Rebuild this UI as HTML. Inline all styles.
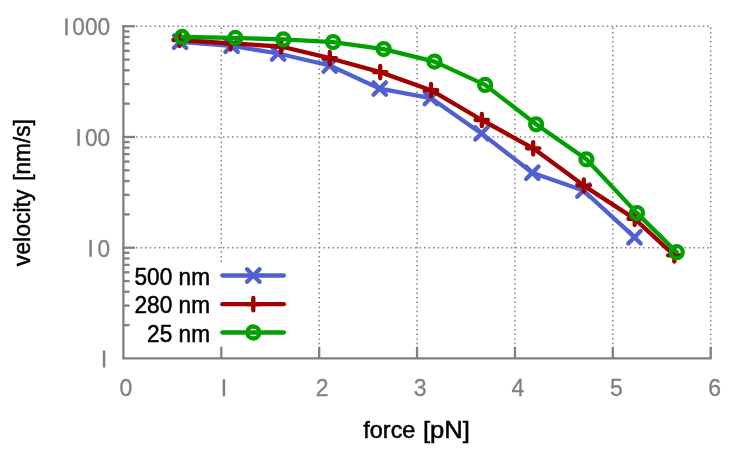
<!DOCTYPE html>
<html><head><meta charset="utf-8"><title>velocity vs force</title>
<style>html,body{margin:0;padding:0;background:#fff;}svg{display:block;}text{font-family:"Liberation Sans",sans-serif;}</style>
</head><body>
<svg width="747" height="449" viewBox="0 0 747 449">
<rect width="747" height="449" fill="#ffffff"/>
<g stroke="#808080" stroke-width="1.5" stroke-dasharray="1.5 3.07" fill="none">
<path d="M122.4 26.25H711.3"/>
<path d="M122.4 136.98H711.3"/>
<path d="M122.4 247.72H711.3"/>
<path d="M221.28 357.95V26.25"/>
<path d="M319.17 357.95V26.25"/>
<path d="M417.05 357.95V26.25"/>
<path d="M514.93 357.95V26.25"/>
<path d="M612.82 357.95V26.25"/>
<path d="M710.7 357.95V26.25"/>
</g>
<g stroke="#808080" stroke-width="2.3" fill="none" stroke-linecap="butt">
<path d="M123.4 25.25V358.45H711.7"/>
<path d="M123.4 26.25H135"/>
<path d="M123.4 136.98H135"/>
<path d="M123.4 247.72H135"/>
<path d="M123.4 103.65H129.6"/>
<path d="M123.4 84.15H129.6"/>
<path d="M123.4 70.32H129.6"/>
<path d="M123.4 59.58H129.6"/>
<path d="M123.4 50.82H129.6"/>
<path d="M123.4 43.4H129.6"/>
<path d="M123.4 36.98H129.6"/>
<path d="M123.4 31.32H129.6"/>
<path d="M123.4 214.38H129.6"/>
<path d="M123.4 194.88H129.6"/>
<path d="M123.4 181.05H129.6"/>
<path d="M123.4 170.32H129.6"/>
<path d="M123.4 161.55H129.6"/>
<path d="M123.4 154.14H129.6"/>
<path d="M123.4 147.71H129.6"/>
<path d="M123.4 142.05H129.6"/>
<path d="M123.4 325.12H129.6"/>
<path d="M123.4 305.62H129.6"/>
<path d="M123.4 291.78H129.6"/>
<path d="M123.4 281.05H129.6"/>
<path d="M123.4 272.28H129.6"/>
<path d="M123.4 264.87H129.6"/>
<path d="M123.4 258.45H129.6"/>
<path d="M123.4 252.78H129.6"/>
<path d="M221.28 358.45V346.75"/>
<path d="M319.17 358.45V346.75"/>
<path d="M417.05 358.45V346.75"/>
<path d="M514.93 358.45V346.75"/>
<path d="M612.82 358.45V346.75"/>
<path d="M710.7 358.45V346.75"/>
</g>
<polyline fill="none" stroke="#5060d0" stroke-width="4.3" stroke-linejoin="round" stroke-linecap="round" points="180.1,41.8 231.6,45.8 278.1,53.5 329.7,65.5 379.7,88.6 430.8,98.1 481.5,133.4 532.3,172.7 583.4,190.5 634.5,237.2"/>
<path d="M173.9 35.6L186.3 48M173.9 48L186.3 35.6" stroke="#5060d0" stroke-width="4.3" stroke-linecap="round" fill="none"/>
<path d="M225.4 39.6L237.8 52M225.4 52L237.8 39.6" stroke="#5060d0" stroke-width="4.3" stroke-linecap="round" fill="none"/>
<path d="M271.9 47.3L284.3 59.7M271.9 59.7L284.3 47.3" stroke="#5060d0" stroke-width="4.3" stroke-linecap="round" fill="none"/>
<path d="M323.5 59.3L335.9 71.7M323.5 71.7L335.9 59.3" stroke="#5060d0" stroke-width="4.3" stroke-linecap="round" fill="none"/>
<path d="M373.5 82.4L385.9 94.8M373.5 94.8L385.9 82.4" stroke="#5060d0" stroke-width="4.3" stroke-linecap="round" fill="none"/>
<path d="M424.6 91.9L437 104.3M424.6 104.3L437 91.9" stroke="#5060d0" stroke-width="4.3" stroke-linecap="round" fill="none"/>
<path d="M475.3 127.2L487.7 139.6M475.3 139.6L487.7 127.2" stroke="#5060d0" stroke-width="4.3" stroke-linecap="round" fill="none"/>
<path d="M526.1 166.5L538.5 178.9M526.1 178.9L538.5 166.5" stroke="#5060d0" stroke-width="4.3" stroke-linecap="round" fill="none"/>
<path d="M577.2 184.3L589.6 196.7M577.2 196.7L589.6 184.3" stroke="#5060d0" stroke-width="4.3" stroke-linecap="round" fill="none"/>
<path d="M628.3 231L640.7 243.4M628.3 243.4L640.7 231" stroke="#5060d0" stroke-width="4.3" stroke-linecap="round" fill="none"/>
<polyline fill="none" stroke="#a00000" stroke-width="4.3" stroke-linejoin="round" stroke-linecap="round" points="179.6,40 230.6,43.3 281.1,46.5 329.8,58.2 380.2,72.1 431,90.2 481.8,120 533.2,148.3 583.8,185.6 634.7,218.9 674.3,255.4"/>
<path d="M173.4 40L185.8 40M179.6 33.8L179.6 46.2" stroke="#a00000" stroke-width="4.3" stroke-linecap="round" fill="none"/>
<path d="M224.4 43.3L236.8 43.3M230.6 37.1L230.6 49.5" stroke="#a00000" stroke-width="4.3" stroke-linecap="round" fill="none"/>
<path d="M274.9 46.5L287.3 46.5M281.1 40.3L281.1 52.7" stroke="#a00000" stroke-width="4.3" stroke-linecap="round" fill="none"/>
<path d="M323.6 58.2L336 58.2M329.8 52L329.8 64.4" stroke="#a00000" stroke-width="4.3" stroke-linecap="round" fill="none"/>
<path d="M374 72.1L386.4 72.1M380.2 65.9L380.2 78.3" stroke="#a00000" stroke-width="4.3" stroke-linecap="round" fill="none"/>
<path d="M424.8 90.2L437.2 90.2M431 84L431 96.4" stroke="#a00000" stroke-width="4.3" stroke-linecap="round" fill="none"/>
<path d="M475.6 120L488 120M481.8 113.8L481.8 126.2" stroke="#a00000" stroke-width="4.3" stroke-linecap="round" fill="none"/>
<path d="M527 148.3L539.4 148.3M533.2 142.1L533.2 154.5" stroke="#a00000" stroke-width="4.3" stroke-linecap="round" fill="none"/>
<path d="M577.6 185.6L590 185.6M583.8 179.4L583.8 191.8" stroke="#a00000" stroke-width="4.3" stroke-linecap="round" fill="none"/>
<path d="M628.5 218.9L640.9 218.9M634.7 212.7L634.7 225.1" stroke="#a00000" stroke-width="4.3" stroke-linecap="round" fill="none"/>
<path d="M668.1 255.4L680.5 255.4M674.3 249.2L674.3 261.6" stroke="#a00000" stroke-width="4.3" stroke-linecap="round" fill="none"/>
<polyline fill="none" stroke="#00a000" stroke-width="4.3" stroke-linejoin="round" stroke-linecap="round" points="182.1,37 235.3,37.9 283.3,39.4 333.1,42.1 383.7,49.1 434.5,61.6 485.1,84.9 536.1,124.3 586.4,159.3 637,213.1 676.7,252.2"/>
<circle cx="182.1" cy="37" r="6" stroke="#00a000" stroke-width="4.3" fill="none"/>
<circle cx="235.3" cy="37.9" r="6" stroke="#00a000" stroke-width="4.3" fill="none"/>
<circle cx="283.3" cy="39.4" r="6" stroke="#00a000" stroke-width="4.3" fill="none"/>
<circle cx="333.1" cy="42.1" r="6" stroke="#00a000" stroke-width="4.3" fill="none"/>
<circle cx="383.7" cy="49.1" r="6" stroke="#00a000" stroke-width="4.3" fill="none"/>
<circle cx="434.5" cy="61.6" r="6" stroke="#00a000" stroke-width="4.3" fill="none"/>
<circle cx="485.1" cy="84.9" r="6" stroke="#00a000" stroke-width="4.3" fill="none"/>
<circle cx="536.1" cy="124.3" r="6" stroke="#00a000" stroke-width="4.3" fill="none"/>
<circle cx="586.4" cy="159.3" r="6" stroke="#00a000" stroke-width="4.3" fill="none"/>
<circle cx="637" cy="213.1" r="6" stroke="#00a000" stroke-width="4.3" fill="none"/>
<circle cx="676.7" cy="252.2" r="6" stroke="#00a000" stroke-width="4.3" fill="none"/>
<rect x="133" y="262" width="158" height="84" fill="#ffffff"/>
<path d="M222.3 275.5H283.9" stroke="#5060d0" stroke-width="4.3" stroke-linecap="round"/>
<path d="M247.1 269.3L259.5 281.7M247.1 281.7L259.5 269.3" stroke="#5060d0" stroke-width="4.3" stroke-linecap="round" fill="none"/>
<path d="M222.3 304.2H283.9" stroke="#a00000" stroke-width="4.3" stroke-linecap="round"/>
<path d="M247.1 304.2L259.5 304.2M253.3 298L253.3 310.4" stroke="#a00000" stroke-width="4.3" stroke-linecap="round" fill="none"/>
<path d="M222.3 332.5H283.9" stroke="#00a000" stroke-width="4.3" stroke-linecap="round"/>
<circle cx="253.3" cy="332.5" r="6" stroke="#00a000" stroke-width="4.3" fill="none"/>
<g opacity="0.999">
<g font-size="23.8" fill="#000000" stroke="#000000" stroke-width="0.5" text-anchor="end">
<text transform="translate(210.0 284.5) scale(0.951 1)">500 nm</text>
<text transform="translate(210.0 313.2) scale(0.951 1)">280 nm</text>
<text transform="translate(210.0 341.5) scale(0.951 1)">25 nm</text>
</g>
<g font-size="23" fill="#808080" stroke="#808080" stroke-width="0.3">
<text x="72.3" y="35.25" font-size="23.5" textLength="37.8" lengthAdjust="spacingAndGlyphs">000</text>
<rect x="65.25" y="18.35" width="2.5" height="17" fill="#808080" stroke="none"/>
<text x="84.9" y="145.98" font-size="23.5" textLength="25.2" lengthAdjust="spacingAndGlyphs">00</text>
<rect x="77.3" y="129.08" width="2.5" height="17" fill="#808080" stroke="none"/>
<text x="97.5" y="256.72" font-size="23.5" textLength="12.6" lengthAdjust="spacingAndGlyphs">0</text>
<rect x="89.35" y="239.82" width="2.5" height="17" fill="#808080" stroke="none"/>
<rect x="102.8" y="350.55" width="2.5" height="17" fill="#808080" stroke="none"/>
<text x="125.9" y="396" text-anchor="middle">0</text>
<rect x="222.68" y="379.3" width="2.5" height="17" fill="#808080" stroke="none"/>
<text x="322.17" y="396" text-anchor="middle">2</text>
<text x="420.05" y="396" text-anchor="middle">3</text>
<text x="517.93" y="396" text-anchor="middle">4</text>
<text x="616.32" y="396" text-anchor="middle">5</text>
<text x="714.7" y="396" text-anchor="middle">6</text>
</g>
<g font-size="23.6" fill="#000" stroke="#000" stroke-width="0.5">
<text x="363.3" y="438.3" textLength="52.1" lengthAdjust="spacingAndGlyphs">force</text>
<text x="422.9" y="438.3" textLength="47.0" lengthAdjust="spacingAndGlyphs">[pN]</text>
<text transform="translate(30.1 266.3) rotate(-90)" x="0" y="0" textLength="76.8" lengthAdjust="spacingAndGlyphs">velocity</text>
<text transform="translate(30.1 180.8) rotate(-90)" x="0" y="0" textLength="61.55" lengthAdjust="spacingAndGlyphs">[nm/s]</text>
</g>
</g>
</svg></body></html>
